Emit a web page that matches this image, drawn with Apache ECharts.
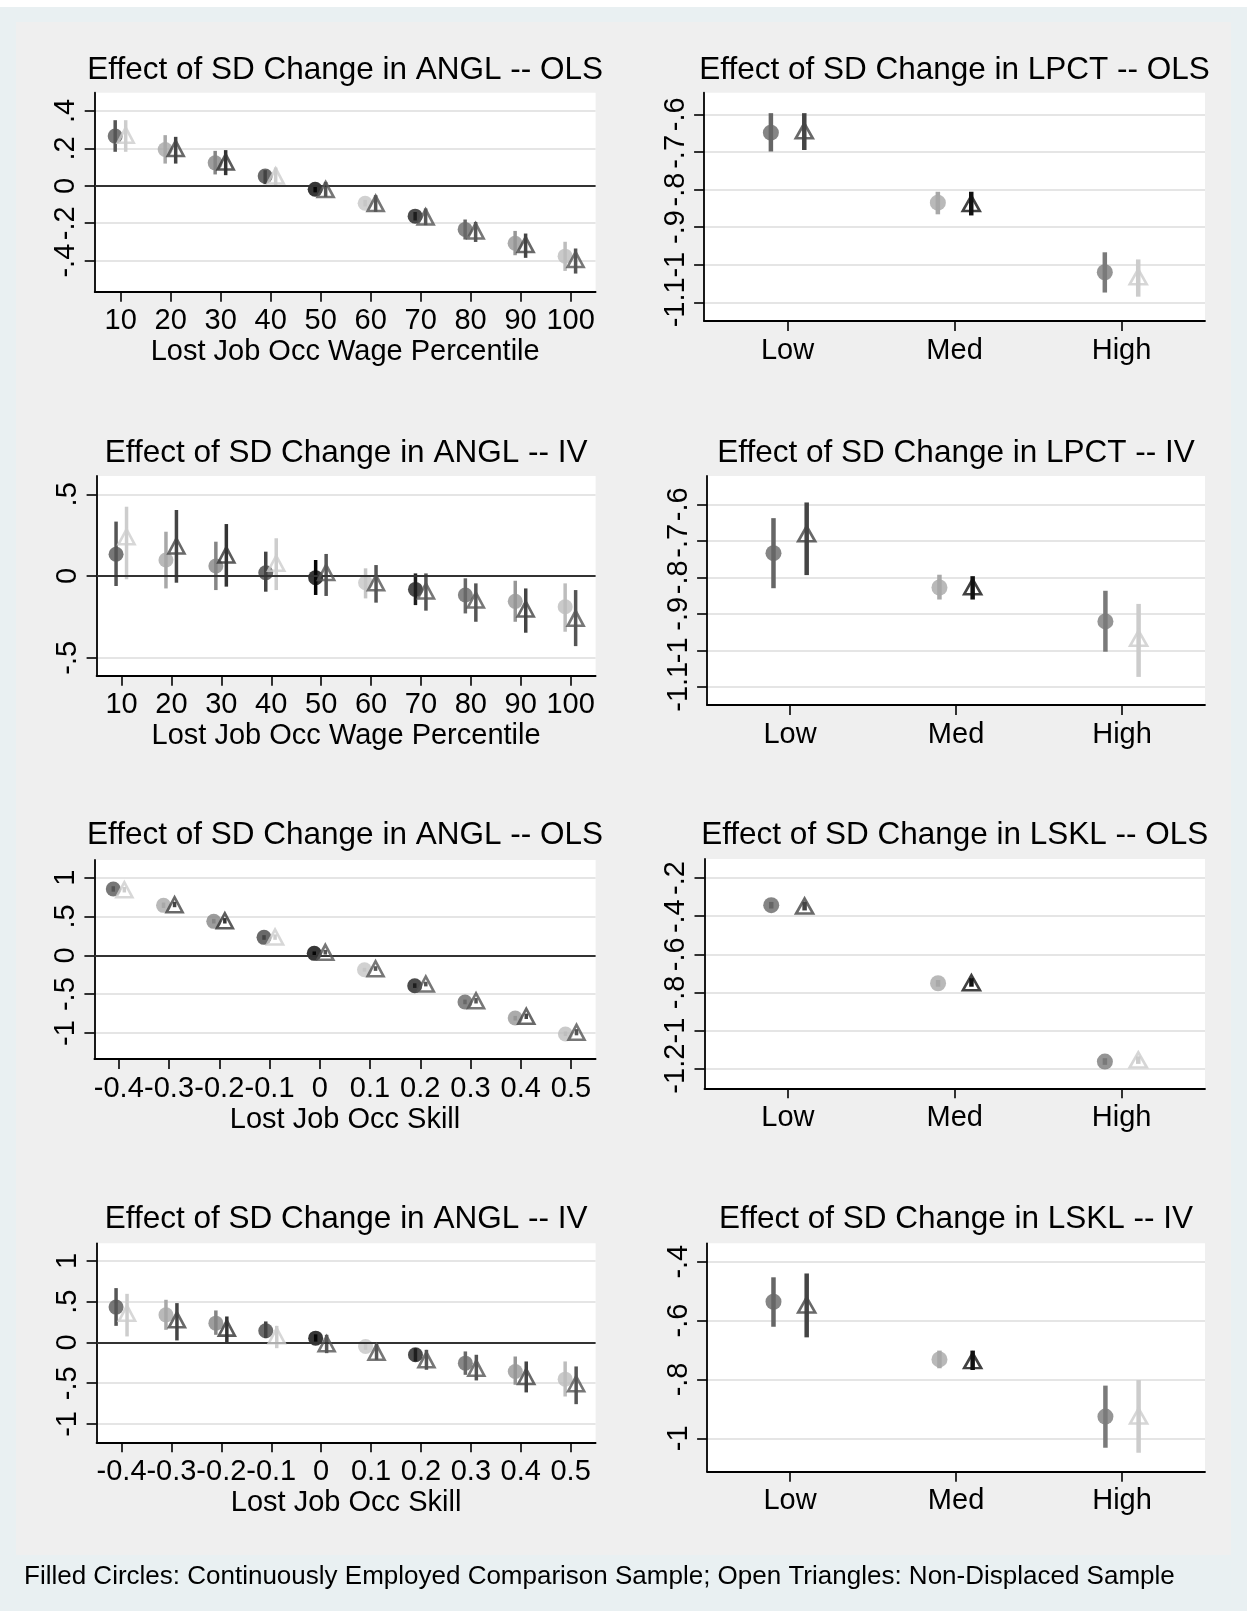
<!DOCTYPE html>
<html><head><meta charset="utf-8">
<script src="https://cdn.jsdelivr.net/npm/echarts@6/dist/echarts.min.js"></script>
<style>html,body{margin:0;padding:0;background:#fff}#chart{width:1247px;height:1611px}</style>
</head><body><div id="chart"></div><script>
// ---------------- categories & tick labels ----------------
const wagePctCats = [10, 20, 30, 40, 50, 60, 70, 80, 90, 100];
const skillCats = [-0.4, -0.3, -0.2, -0.1, 0, 0.1, 0.2, 0.3, 0.4, 0.5];
const levelCats = ['Low', 'Med', 'High'];

const yTicksAnglOlsWage = [-0.4, -0.2, 0, 0.2, 0.4];
const yTicksAnglIvWage = [-0.5, 0, 0.5];
const yTicksAnglSkill = [-1, -0.5, 0, 0.5, 1];
const yTicksLpct = [-1.1, -1, -0.9, -0.8, -0.7, -0.6];
const yTicksLsklOls = [-1.2, -1, -0.8, -0.6, -0.4, -0.2];
const yTicksLsklIv = [-1, -0.8, -0.6, -0.4];

const panelTitles = [
  'Effect of SD Change in ANGL -- OLS', 'Effect of SD Change in LPCT -- OLS',
  'Effect of SD Change in ANGL -- IV', 'Effect of SD Change in LPCT -- IV',
  'Effect of SD Change in ANGL -- OLS', 'Effect of SD Change in LSKL -- OLS',
  'Effect of SD Change in ANGL -- IV', 'Effect of SD Change in LSKL -- IV'
];
const xTitleWage = 'Lost Job Occ Wage Percentile';
const xTitleSkill = 'Lost Job Occ Skill';
const footnote = 'Filled Circles: Continuously Employed Comparison Sample; Open Triangles: Non-Displaced Sample';

// ---------------- values (estimate, CI low, CI high) ----------------
// ANGL -- OLS by wage percentile
const anglOlsWageCircEst = [0.266, 0.194, 0.123, 0.052, -0.018, -0.093, -0.162, -0.233, -0.307, -0.376];
const anglOlsWageCircLo  = [0.182, 0.119, 0.061, 0.009, -0.035, -0.110, -0.185, -0.287, -0.371, -0.455];
const anglOlsWageCircHi  = [0.351, 0.271, 0.187, 0.084, 0.000, -0.075, -0.140, -0.180, -0.241, -0.299];
const anglOlsWageTriEst  = [0.271, 0.200, 0.128, 0.053, -0.020, -0.094, -0.166, -0.241, -0.314, -0.394];
const anglOlsWageTriLo   = [0.182, 0.119, 0.057, -0.002, -0.059, -0.139, -0.210, -0.300, -0.385, -0.469];
const anglOlsWageTriHi   = [0.351, 0.262, 0.191, 0.098, 0.021, -0.050, -0.121, -0.193, -0.255, -0.335];
// ANGL -- IV by wage percentile
const anglIvWageCircEst = [0.133, 0.098, 0.061, 0.020, -0.010, -0.041, -0.082, -0.116, -0.155, -0.188];
const anglIvWageCircLo  = [-0.061, -0.076, -0.086, -0.096, -0.116, -0.137, -0.178, -0.229, -0.280, -0.341];
const anglIvWageCircHi  = [0.333, 0.271, 0.210, 0.149, 0.098, 0.047, 0.016, -0.014, -0.029, -0.045];
const anglIvWageTriEst  = [0.240, 0.184, 0.129, 0.078, 0.022, -0.041, -0.092, -0.147, -0.202, -0.259];
const anglIvWageTriLo   = [-0.020, -0.041, -0.065, -0.086, -0.122, -0.163, -0.212, -0.280, -0.347, -0.429];
const anglIvWageTriHi   = [0.424, 0.404, 0.318, 0.231, 0.135, 0.067, 0.016, -0.045, -0.076, -0.086];
// ANGL -- OLS by skill
const anglOlsSkillCircEst = [0.854, 0.644, 0.438, 0.232, 0.026, -0.185, -0.391, -0.601, -0.807, -1.013];
const anglOlsSkillCircLo  = [0.820, 0.610, 0.410, 0.200, 0.000, -0.210, -0.420, -0.630, -0.840, -1.040];
const anglOlsSkillCircHi  = [0.890, 0.680, 0.470, 0.260, 0.050, -0.160, -0.360, -0.570, -0.780, -0.980];
const anglOlsSkillTriEst  = [0.845, 0.652, 0.446, 0.236, 0.039, -0.172, -0.369, -0.584, -0.785, -0.991];
const anglOlsSkillTriLo   = [0.810, 0.620, 0.410, 0.200, 0.010, -0.200, -0.400, -0.620, -0.820, -1.030];
const anglOlsSkillTriHi   = [0.880, 0.690, 0.480, 0.270, 0.070, -0.140, -0.340, -0.550, -0.750, -0.950];
// ANGL -- IV by skill
const anglIvSkillCircEst = [0.434, 0.339, 0.237, 0.143, 0.053, -0.049, -0.151, -0.254, -0.356, -0.450];
const anglIvSkillCircLo  = [0.204, 0.155, 0.094, 0.053, 0.010, -0.090, -0.233, -0.397, -0.519, -0.663];
const anglIvSkillCircHi  = [0.667, 0.524, 0.393, 0.258, 0.100, -0.010, -0.070, -0.110, -0.172, -0.233];
const anglIvSkillTriEst  = [0.360, 0.278, 0.176, 0.082, -0.016, -0.119, -0.213, -0.315, -0.417, -0.507];
const anglIvSkillTriLo   = [0.074, 0.025, -0.016, -0.070, -0.131, -0.213, -0.335, -0.466, -0.613, -0.757];
const anglIvSkillTriHi   = [0.597, 0.483, 0.319, 0.204, 0.094, -0.008, -0.090, -0.151, -0.233, -0.294];
// LPCT -- OLS
const lpctOlsCircEst = [-0.649, -0.835, -1.020];
const lpctOlsCircLo  = [-0.699, -0.866, -1.074];
const lpctOlsCircHi  = [-0.597, -0.806, -0.967];
const lpctOlsTriEst  = [-0.644, -0.837, -1.032];
const lpctOlsTriLo   = [-0.695, -0.869, -1.085];
const lpctOlsTriHi   = [-0.597, -0.806, -0.986];
// LPCT -- IV
const lpctIvCircEst = [-0.734, -0.828, -0.921];
const lpctIvCircLo  = [-0.830, -0.861, -1.004];
const lpctIvCircHi  = [-0.638, -0.793, -0.837];
const lpctIvTriEst  = [-0.681, -0.826, -0.967];
const lpctIvTriLo   = [-0.794, -0.861, -1.073];
const lpctIvTriHi   = [-0.595, -0.797, -0.873];
// LSKL -- OLS
const lsklOlsCircEst = [-0.342, -0.752, -1.163];
const lsklOlsCircLo  = [-0.360, -0.770, -1.180];
const lsklOlsCircHi  = [-0.325, -0.735, -1.145];
const lsklOlsTriEst  = [-0.347, -0.749, -1.154];
const lsklOlsTriLo   = [-0.370, -0.770, -1.175];
const lsklOlsTriHi   = [-0.325, -0.725, -1.135];
// LSKL -- IV
const lsklIvCircEst = [-0.536, -0.732, -0.926];
const lsklIvCircLo  = [-0.621, -0.762, -1.032];
const lsklIvCircHi  = [-0.453, -0.702, -0.821];
const lsklIvTriEst  = [-0.547, -0.736, -0.924];
const lsklIvTriLo   = [-0.657, -0.768, -1.049];
const lsklIvTriHi   = [-0.440, -0.702, -0.802];

// ---------------- styles ----------------
const FONT = "'Liberation Sans', Arial, Helvetica, sans-serif";
const circleShadesTen = ['#555555', '#a8a8a8', '#858585', '#444444', '#050505', '#c6c6c6', '#1e1e1e', '#686868', '#969696', '#bdbdbd'];
const triangleShadesTen = ['#cdcdcd', '#444444', '#333333', '#cdcdcd', '#555555', '#555555', '#555555', '#555555', '#444444', '#555555'];
const circleShadesThree = ['#666666', '#a8a8a8', '#7a7a7a'];
const triangleShadesThree = ['#444444', '#111111', '#cccccc'];

const layouts = [
  {left: 94.7, top: 92.7, width: 500.9, height: 199, xMin: 4.8, xMax: 105, yMin: -0.566, yMax: 0.498, titleY: 70},
  {left: 704.1, top: 92.7, width: 500.9, height: 228.3, xMin: 0.5, xMax: 3.5, yMin: -1.1497, yMax: -0.5426, titleY: 70},
  {left: 96.6, top: 476, width: 499, height: 199.7, xMin: 5, xMax: 105, yMin: -0.61, yMax: 0.612, titleY: 453},
  {left: 707.1, top: 476, width: 497.9, height: 229, xMin: 0.5, xMax: 3.5, yMin: -1.150, yMax: -0.5225, titleY: 453},
  {left: 94.4, top: 860, width: 501.2, height: 199, xMin: -0.4486, xMax: 0.549, yMin: -1.335, yMax: 1.228, titleY: 835},
  {left: 704.5, top: 859, width: 500.5, height: 229.3, xMin: 0.5, xMax: 3.5, yMin: -1.303, yMax: -0.1, titleY: 835},
  {left: 96.6, top: 1243.3, width: 499, height: 199, xMin: -0.45, xMax: 0.55, yMin: -1.225, yMax: 1.217, titleY: 1219},
  {left: 707.1, top: 1243.3, width: 497.9, height: 228.4, xMin: 0.5, xMax: 3.5, yMin: -1.1134, yMax: -0.3375, titleY: 1219}
];

const panels = [
  {kind: 'wage', yTicks: yTicksAnglOlsWage, zero: true, c: [anglOlsWageCircEst, anglOlsWageCircLo, anglOlsWageCircHi], t: [anglOlsWageTriEst, anglOlsWageTriLo, anglOlsWageTriHi]},
  {kind: 'level', yTicks: yTicksLpct, zero: false, c: [lpctOlsCircEst, lpctOlsCircLo, lpctOlsCircHi], t: [lpctOlsTriEst, lpctOlsTriLo, lpctOlsTriHi]},
  {kind: 'wage', yTicks: yTicksAnglIvWage, zero: true, c: [anglIvWageCircEst, anglIvWageCircLo, anglIvWageCircHi], t: [anglIvWageTriEst, anglIvWageTriLo, anglIvWageTriHi]},
  {kind: 'level', yTicks: yTicksLpct, zero: false, c: [lpctIvCircEst, lpctIvCircLo, lpctIvCircHi], t: [lpctIvTriEst, lpctIvTriLo, lpctIvTriHi]},
  {kind: 'skill', yTicks: yTicksAnglSkill, zero: true, c: [anglOlsSkillCircEst, anglOlsSkillCircLo, anglOlsSkillCircHi], t: [anglOlsSkillTriEst, anglOlsSkillTriLo, anglOlsSkillTriHi]},
  {kind: 'level', yTicks: yTicksLsklOls, zero: false, c: [lsklOlsCircEst, lsklOlsCircLo, lsklOlsCircHi], t: [lsklOlsTriEst, lsklOlsTriLo, lsklOlsTriHi]},
  {kind: 'skill', yTicks: yTicksAnglSkill, zero: true, c: [anglIvSkillCircEst, anglIvSkillCircLo, anglIvSkillCircHi], t: [anglIvSkillTriEst, anglIvSkillTriLo, anglIvSkillTriHi]},
  {kind: 'level', yTicks: yTicksLsklIv, zero: false, c: [lsklIvCircEst, lsklIvCircLo, lsklIvCircHi], t: [lsklIvTriEst, lsklIvTriLo, lsklIvTriHi]}
];

function stataFmt(v) {
  const s = String(Math.round(v * 1000) / 1000);
  return s.replace(/^(-?)0\./, '$1.');
}

const kindCfg = {
  wage: {pos: wagePctCats, off: [-1.1, 1.0], name: xTitleWage, label: v => String(v), circ: 15, tri: [16, 15], bar: 3.5, cS: circleShadesTen, tS: triangleShadesTen},
  skill: {pos: skillCats, off: [-0.011, 0.011], name: xTitleSkill, label: v => String(Math.round(v * 10) / 10), circ: 15, tri: [16, 15], bar: 3.5, cS: circleShadesTen, tS: triangleShadesTen},
  level: {pos: [1, 2, 3], off: [-0.1, 0.1], name: '', label: v => levelCats[Math.round(v) - 1], circ: 16, tri: [17, 15], bar: 4.5, cS: circleShadesThree, tS: triangleShadesThree}
};

const grid = [], xAxis = [], yAxis = [], series = [], graphic = [];

graphic.push({type: 'rect', z: -10, shape: {x: 0, y: 7, width: 1247, height: 1604}, style: {fill: '#e9f0f2'}});
graphic.push({type: 'rect', z: -9, shape: {x: 16, y: 22, width: 1215, height: 1533}, style: {fill: '#efefef'}});

function barRenderer(shades, width) {
  return function (params, api) {
    const a = api.coord([api.value(0), api.value(1)]);
    const b = api.coord([api.value(0), api.value(2)]);
    return {type: 'line', shape: {x1: a[0], y1: a[1], x2: b[0], y2: b[1]},
      style: {stroke: shades[params.dataIndex], lineWidth: width, lineCap: 'butt'}};
  };
}

const yLabelBase = {rotate: 90, margin: 14, fontSize: 29, color: '#000', fontFamily: FONT, formatter: stataFmt,
  showMinLabel: true, showMaxLabel: true, hideOverlap: false};

panels.forEach((p, i) => {
  const L = layouts[i];
  const K = kindCfg[p.kind];
  grid.push({left: L.left, top: L.top, width: L.width, height: L.height, show: true, backgroundColor: '#ffffff', borderWidth: 0});
  xAxis.push({
    type: 'value', gridIndex: i, min: L.xMin, max: L.xMax,
    axisLine: {show: true, onZero: false, lineStyle: {color: '#000', width: 1.8}},
    axisTick: {show: true, customValues: K.pos, length: 10, lineStyle: {color: '#000', width: 1.6}},
    axisLabel: {customValues: K.pos, margin: 15, fontSize: 29, color: '#000', fontFamily: FONT, formatter: K.label,
      showMinLabel: true, showMaxLabel: true, hideOverlap: false},
    splitLine: {show: false},
    name: K.name, nameLocation: 'middle', nameGap: 46,
    nameTextStyle: {fontSize: 29, color: '#000', fontFamily: FONT}
  });
  // alternate tick labels over two stacked y axes so that crowded labels are all drawn (as in the original)
  const evenTicks = p.yTicks.filter((v, k) => k % 2 === 0);
  const oddTicks = p.yTicks.filter((v, k) => k % 2 === 1);
  const yMain = yAxis.length;
  yAxis.push({
    type: 'value', gridIndex: i, min: L.yMin, max: L.yMax, position: 'left',
    axisLine: {show: true, onZero: false, lineStyle: {color: '#000', width: 1.8}},
    axisTick: {show: true, customValues: p.yTicks, length: 10, lineStyle: {color: '#000', width: 1.6}},
    axisLabel: Object.assign({customValues: evenTicks}, yLabelBase),
    splitLine: {show: true, lineStyle: {color: '#e5e5e5', width: 2.2}}
  });
  yAxis.push({
    type: 'value', gridIndex: i, min: L.yMin, max: L.yMax, position: 'left', offset: 0,
    axisLine: {show: false, onZero: false}, axisTick: {show: false},
    axisLabel: Object.assign({customValues: oddTicks}, yLabelBase),
    splitLine: {show: false}
  });
  const xc = K.pos.map(v => v + K.off[0]);
  const xt = K.pos.map(v => v + K.off[1]);
  const circBars = {
    type: 'custom', xAxisIndex: i, yAxisIndex: yMain, z: 2, silent: true,
    renderItem: barRenderer(K.cS, K.bar), encode: {x: 0, y: [1, 2]},
    data: xc.map((x, k) => [x, p.c[1][k], p.c[2][k]])
  };
  if (p.zero) {
    circBars.markLine = {silent: true, symbol: 'none', label: {show: false}, animation: false,
      lineStyle: {color: '#333', width: 2.2, type: 'solid'}, data: [{yAxis: 0}]};
  }
  series.push(circBars);
  series.push({
    type: 'scatter', xAxisIndex: i, yAxisIndex: yMain, z: 3, symbol: 'circle', symbolSize: K.circ,
    data: xc.map((x, k) => ({value: [x, p.c[0][k]], itemStyle: {color: K.cS[k]}}))
  });
  series.push({
    type: 'custom', xAxisIndex: i, yAxisIndex: yMain, z: 4, silent: true,
    renderItem: barRenderer(K.tS, K.bar), encode: {x: 0, y: [1, 2]},
    data: xt.map((x, k) => [x, p.t[1][k], p.t[2][k]])
  });
  series.push({
    type: 'scatter', xAxisIndex: i, yAxisIndex: yMain, z: 5, symbol: 'triangle', symbolSize: K.tri,
    data: xt.map((x, k) => ({value: [x, p.t[0][k]], itemStyle: {color: 'rgba(0,0,0,0)', borderColor: K.tS[k], borderWidth: 2.6}}))
  });
  graphic.push({type: 'text', z: 10, x: L.left + L.width / 2, y: L.titleY,
    style: {text: panelTitles[i], font: '31.5px ' + FONT, fill: '#000', align: 'center', verticalAlign: 'middle'}});
});

graphic.push({type: 'text', z: 10, x: 24, y: 1577,
  style: {text: footnote, font: '26px ' + FONT, fill: '#000', align: 'left', verticalAlign: 'middle'}});

const chart = echarts.init(document.getElementById('chart'), null, {renderer: 'canvas'});
chart.setOption({
  backgroundColor: '#ffffff',
  animation: false,
  grid, xAxis, yAxis, series, graphic
});
</script></body></html>
